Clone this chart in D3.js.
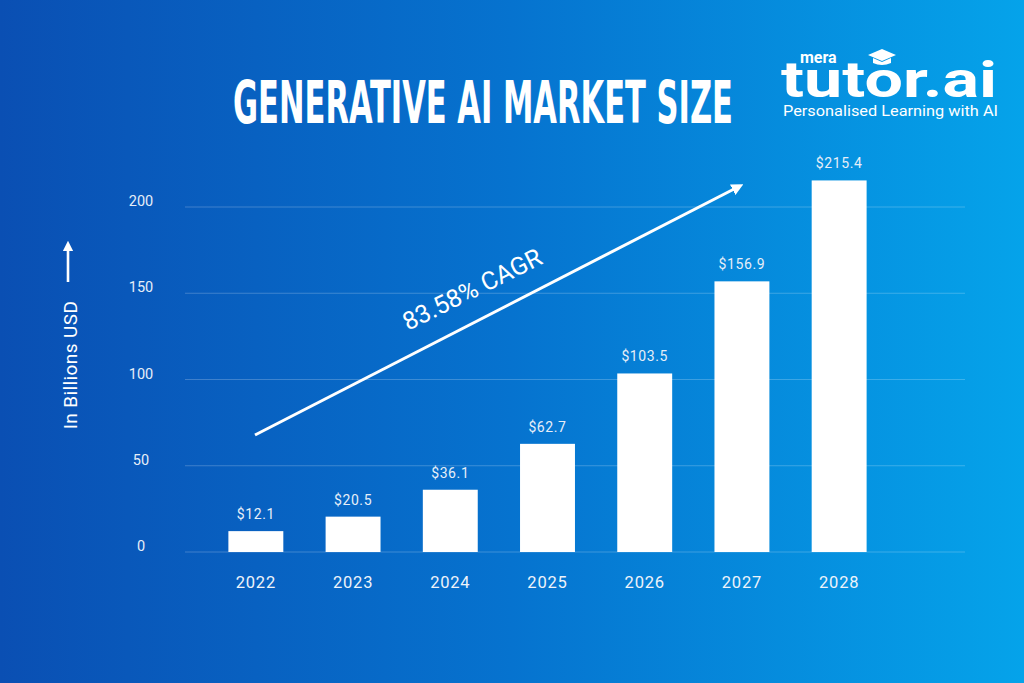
<!DOCTYPE html>
<html>
<head>
<meta charset="utf-8">
<script src="https://cdn.jsdelivr.net/npm/d3@7"></script>
<style>
  html, body { margin: 0; padding: 0; background: #0a50b4; }
  svg { display: block; }
</style>
</head>
<body>
<svg id="chart" width="1024" height="683"></svg>
<script>
const years = ["2022", "2023", "2024", "2025", "2026", "2027", "2028"];
const marketSize = [12.1, 20.5, 36.1, 62.7, 103.5, 156.9, 215.4];
const valueLabels = ["$12.1", "$20.5", "$36.1", "$62.7", "$103.5", "$156.9", "$215.4"];
const yTicks = [0, 50, 100, 150, 200];
const titleText = "GENERATIVE AI MARKET SIZE";
const cagrText = "83.58% CAGR";
const yAxisTitle = "In Billions USD";

const svg = d3.select("#chart");
const W = 1024, H = 683;

// background gradient
const defs = svg.append("defs");
const grad = defs.append("linearGradient").attr("id", "bg").attr("x1", "0%").attr("y1", "0%").attr("x2", "100%").attr("y2", "0%");
grad.append("stop").attr("offset", "0%").attr("stop-color", "#0a4fb3");
grad.append("stop").attr("offset", "50%").attr("stop-color", "#0673cf");
grad.append("stop").attr("offset", "100%").attr("stop-color", "#05a3ea");
svg.append("rect").attr("width", W).attr("height", H).attr("fill", "url(#bg)");

const marker = defs.append("marker").attr("id", "ah").attr("viewBox", "0 0 10 10")
  .attr("refX", 5).attr("refY", 5).attr("markerWidth", 4).attr("markerHeight", 4)
  .attr("orient", "auto-start-reverse").attr("markerUnits", "strokeWidth");
marker.append("path").attr("d", "M0,0 L10,5 L0,10 Z").attr("fill", "#fff");

const x = d3.scaleBand().domain(years).range([207, 888]).paddingInner(0.435).paddingOuter(0.22);
const y = d3.scaleLinear().domain([0, 200]).range([552, 207]);

// gridlines
svg.append("g").selectAll("line").data(yTicks).join("line")
  .attr("x1", 185).attr("x2", 965)
  .attr("y1", d => y(d)).attr("y2", d => y(d))
  .attr("stroke", "rgba(255,255,255,0.22)").attr("stroke-width", 1);

// y tick labels
svg.append("g").selectAll("text").data(yTicks).join("text")
  .attr("x", 141).attr("y", d => y(d) - 1)
  .attr("text-anchor", "middle")
  .attr("font-family", "Roboto, 'Open Sans', sans-serif").attr("font-size", 14.5)
  .attr("fill", "#e6eef8")
  .text(d => d);

// bars
const data = years.map((yr, i) => ({ yr, v: marketSize[i], label: valueLabels[i] }));
svg.append("g").selectAll("rect").data(data).join("rect")
  .attr("x", d => x(d.yr)).attr("width", x.bandwidth())
  .attr("y", d => y(d.v)).attr("height", d => y(0) - y(d.v))
  .attr("fill", "#ffffff");

// value labels
svg.append("g").selectAll("text").data(data).join("text")
  .attr("x", d => x(d.yr) + x.bandwidth() / 2)
  .attr("y", d => y(d.v) - 12)
  .attr("text-anchor", "middle")
  .attr("font-family", "Roboto, 'Open Sans', sans-serif").attr("font-size", 14)
  .attr("letter-spacing", 0.6)
  .attr("fill", "#e6eef8")
  .text(d => d.label);

// x labels
svg.append("g").selectAll("text").data(years).join("text")
  .attr("x", d => x(d) + x.bandwidth() / 2).attr("y", 588)
  .attr("text-anchor", "middle")
  .attr("font-family", "Roboto, 'Open Sans', sans-serif").attr("font-size", 16.5)
  .attr("letter-spacing", 0.8)
  .attr("fill", "#eef3fa")
  .text(d => d);

// title
svg.append("text")
  .attr("x", 233).attr("y", 123)
  .attr("textLength", 500).attr("lengthAdjust", "spacingAndGlyphs")
  .attr("font-family", "'DejaVu Sans Condensed', 'DejaVu Sans', sans-serif")
  .attr("font-weight", "bold").attr("font-size", 59)
  .attr("fill", "#ffffff")
  .text(titleText);

// y-axis title and arrow
svg.append("text")
  .attr("transform", "translate(77,365) rotate(-90)")
  .attr("text-anchor", "middle")
  .attr("font-family", "Roboto, 'Open Sans', sans-serif").attr("font-size", 19)
  .attr("letter-spacing", 0.4)
  .attr("fill", "#ffffff")
  .text(yAxisTitle);
svg.append("line").attr("x1", 68).attr("x2", 68).attr("y1", 282).attr("y2", 246)
  .attr("stroke", "#fff").attr("stroke-width", 2.6).attr("marker-end", "url(#ah)");

// CAGR arrow
svg.append("line").attr("x1", 255).attr("y1", 435).attr("x2", 738).attr("y2", 187)
  .attr("stroke", "#fff").attr("stroke-width", 3).attr("marker-end", "url(#ah)");
svg.append("text")
  .attr("transform", "translate(476,297) rotate(-26.5)")
  .attr("text-anchor", "middle")
  .attr("font-family", "Roboto, 'Open Sans', sans-serif").attr("font-size", 25)
  .attr("fill", "#ffffff")
  .text(cagrText);

// logo
const logo = svg.append("g");
logo.append("text").attr("x", 800).attr("y", 63)
  .attr("font-family", "Roboto, sans-serif").attr("font-weight", "bold").attr("font-size", 16)
  .attr("fill", "#fff").text("mera");
logo.append("text").attr("x", 781).attr("y", 97)
  .attr("textLength", 216).attr("lengthAdjust", "spacingAndGlyphs")
  .attr("font-family", "Roboto, sans-serif").attr("font-weight", "bold").attr("font-size", 50)
  .attr("fill", "#fff").text("tutor.ai");
// graduation cap over the second "o"
logo.append("path").attr("d", "M868,55 L882,49 L896,55 L882,61 Z").attr("fill", "#fff");
logo.append("path").attr("d", "M873,58 L873,63 Q882,67 891,63 L891,58 L882,62 Z").attr("fill", "#fff");
logo.append("text").attr("x", 783).attr("y", 116)
  .attr("textLength", 215).attr("lengthAdjust", "spacingAndGlyphs")
  .attr("font-family", "Roboto, sans-serif").attr("font-size", 14.5)
  .attr("fill", "#fff").text("Personalised Learning with AI");
</script>
</body>
</html>
